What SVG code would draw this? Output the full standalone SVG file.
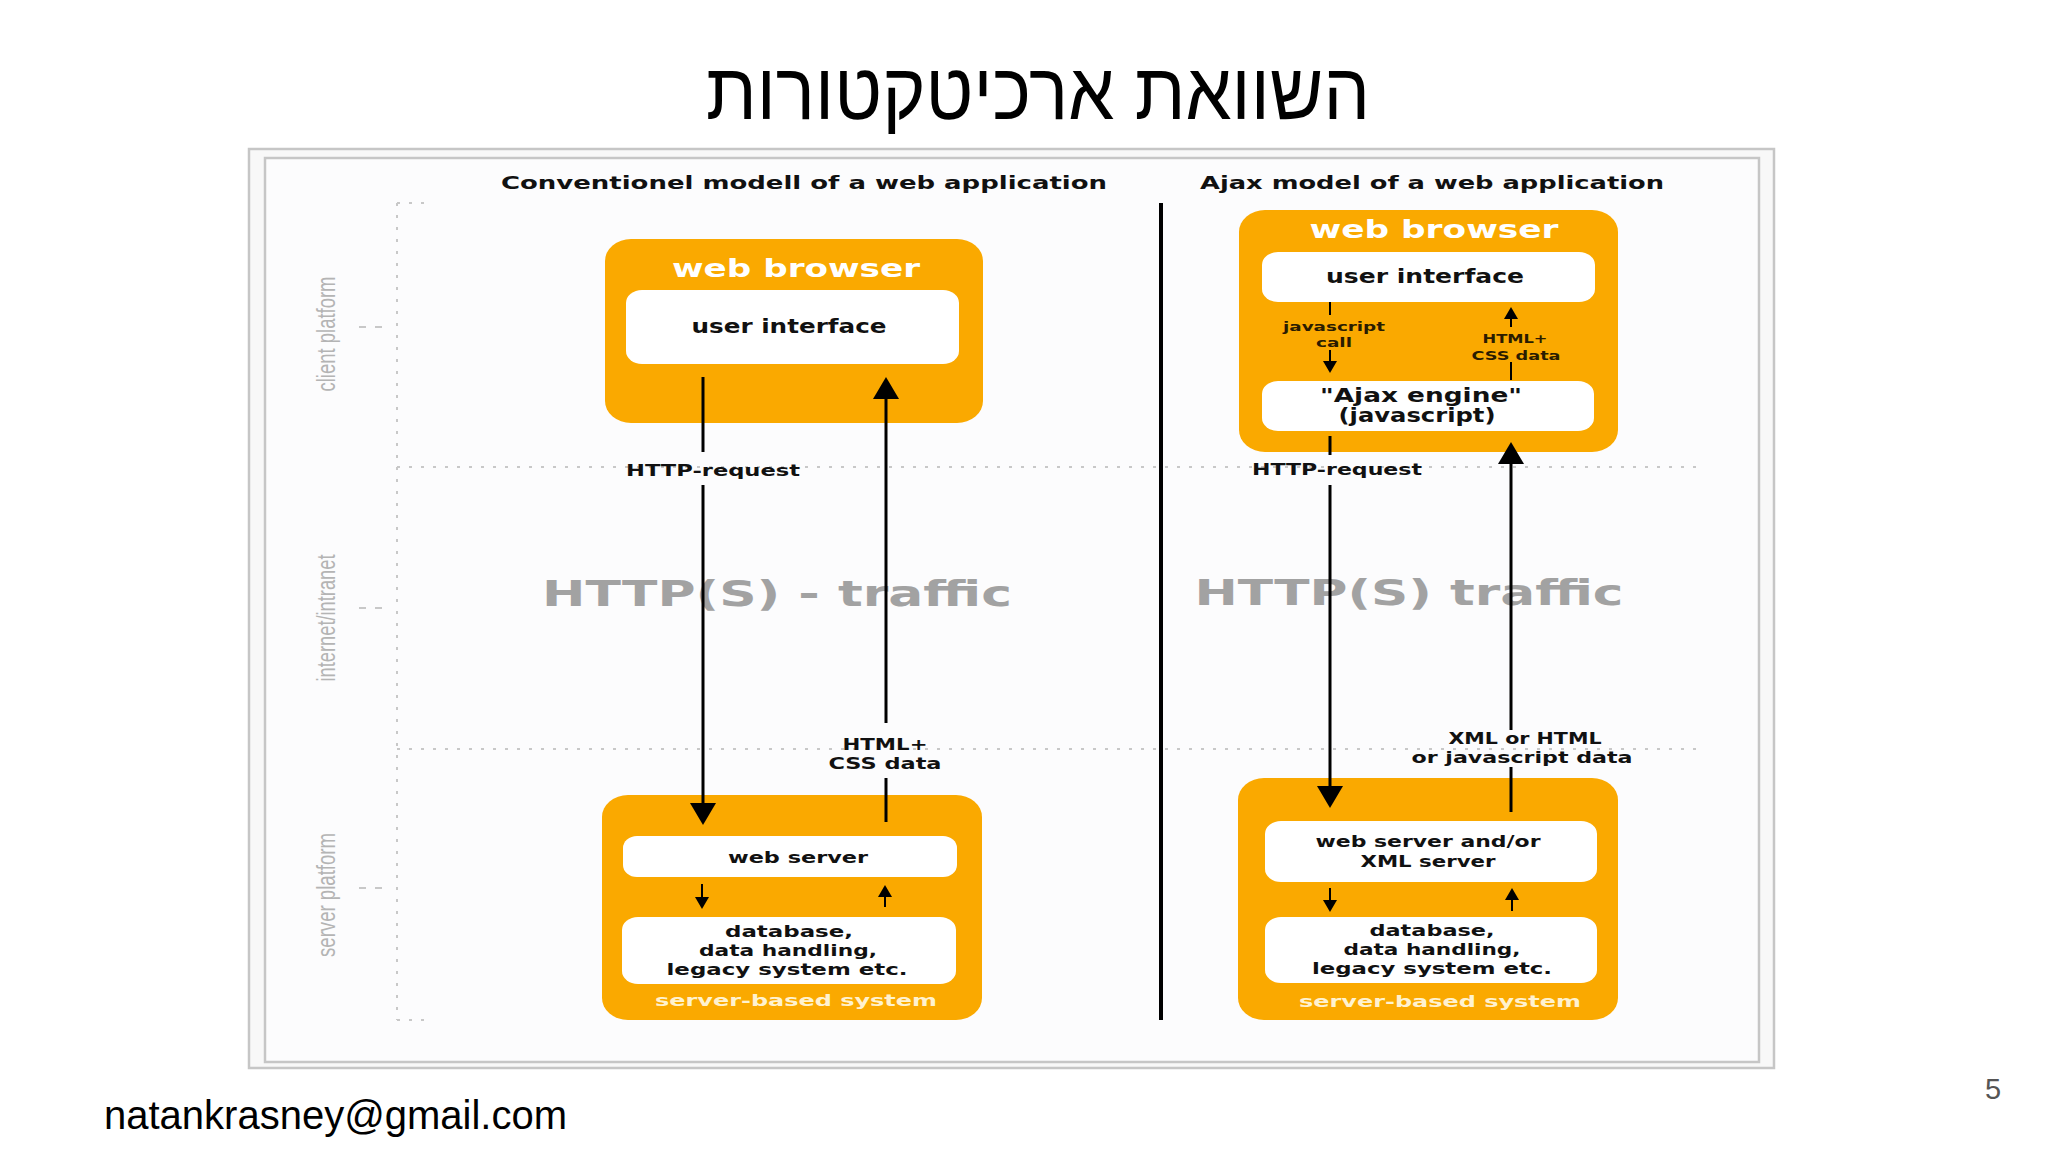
<svg xmlns="http://www.w3.org/2000/svg" width="2048" height="1152" viewBox="0 0 2048 1152">
<defs>
<style>
.title{font-family:"Liberation Sans","DejaVu Sans",sans-serif;font-size:80px;fill:#000;text-anchor:middle}
.foot{font-family:"Liberation Sans",Arial,sans-serif;font-size:40px;fill:#000}
.pnum{font-family:"Liberation Sans",Arial,sans-serif;font-size:29px;fill:#555}
.hdr{font-family:"DejaVu Sans",sans-serif;font-weight:bold;font-size:18px;fill:#111;text-anchor:middle}
.wb{font-family:"DejaVu Sans",sans-serif;font-weight:bold;font-size:25px;fill:#fff;text-anchor:middle}
.box{font-family:"DejaVu Sans",sans-serif;font-weight:bold;font-size:20px;fill:#111;text-anchor:middle}
.sm{font-family:"DejaVu Sans",sans-serif;font-weight:bold;font-size:15px;fill:#111;text-anchor:middle}
.tiny{font-family:"DejaVu Sans",sans-serif;font-weight:bold;font-size:13px;fill:#2a1c00;text-anchor:middle}
.sbs{font-family:"DejaVu Sans",sans-serif;font-weight:bold;font-size:16px;fill:#fff2cf;text-anchor:middle}
.traffic{font-family:"DejaVu Sans",sans-serif;font-weight:bold;font-size:35px;fill:#999;text-anchor:middle}
.side{font-family:"Liberation Sans","DejaVu Sans",sans-serif;font-size:26px;fill:#b4b4b4;text-anchor:middle}
.orange{fill:#faa900}
.white{fill:#fff}
.dot{stroke:#c8c8c8;stroke-width:2;stroke-dasharray:3 9;fill:none}
.tick{stroke:#c8c8c8;stroke-width:2;stroke-dasharray:7 9;fill:none}
.conn{stroke:#000;stroke-width:3;fill:none}
.conn-s{stroke:#000;stroke-width:2;fill:none}
</style>
<marker id="big" viewBox="0 0 22 26" refX="16" refY="13" markerWidth="22" markerHeight="26" markerUnits="userSpaceOnUse" orient="auto">
<path d="M0,0 L22,13 L0,26 z" fill="#000"/>
</marker>
<marker id="small" viewBox="0 0 12 14" refX="8" refY="7" markerWidth="12" markerHeight="14" markerUnits="userSpaceOnUse" orient="auto">
<path d="M0,0 L12,7 L0,14 z" fill="#000"/>
</marker>
</defs>
<rect x="0" y="0" width="2048" height="1152" fill="#fff"/>
<text class="title" x="1038" y="119" textLength="664" lengthAdjust="spacingAndGlyphs">השוואת ארכיטקטורות</text>

<g id="frame">
<rect x="249" y="149" width="1525" height="919" fill="#f8f8f8" stroke="#c6c6c6" stroke-width="2.5"/>
<rect x="265" y="158" width="1494" height="904" fill="#fcfcfd" stroke="#c6c6c6" stroke-width="2.5"/>
</g>

<g id="guides">
<line class="dot" x1="397" y1="203" x2="397" y2="1020"/>
<line class="dot" x1="397" y1="203" x2="433" y2="203"/>
<line class="dot" x1="397" y1="1020" x2="433" y2="1020"/>
<line class="dot" x1="397" y1="467" x2="1704" y2="467"/>
<line class="dot" x1="397" y1="749" x2="1704" y2="749"/>
<line class="tick" x1="359" y1="327" x2="390" y2="327"/>
<line class="tick" x1="359" y1="608" x2="390" y2="608"/>
<line class="tick" x1="359" y1="888" x2="390" y2="888"/>
<text class="side" transform="translate(335,334) rotate(-90)" textLength="115" lengthAdjust="spacingAndGlyphs">client platform</text>
<text class="side" transform="translate(335,618) rotate(-90)" textLength="127" lengthAdjust="spacingAndGlyphs">internet/intranet</text>
<text class="side" transform="translate(335,895) rotate(-90)" textLength="124" lengthAdjust="spacingAndGlyphs">server platform</text>
</g>

<text class="hdr" x="804" y="189" textLength="606" lengthAdjust="spacingAndGlyphs">Conventionel modell of a web application</text>
<text class="hdr" x="1432" y="189" textLength="464" lengthAdjust="spacingAndGlyphs">Ajax model of a web application</text>
<line x1="1161" y1="203" x2="1161" y2="1020" stroke="#000" stroke-width="4"/>

<text class="traffic" x="777" y="606" textLength="470" lengthAdjust="spacingAndGlyphs" opacity="0.9">HTTP(S) - traffic</text>
<text class="traffic" x="1409" y="605" textLength="429" lengthAdjust="spacingAndGlyphs" opacity="0.9">HTTP(S) traffic</text>

<g id="conv-browser">
<rect class="orange" x="605" y="239" width="378" height="184" rx="26" ry="22"/>
<text class="wb" x="796" y="277" textLength="248" lengthAdjust="spacingAndGlyphs">web browser</text>
<g id="conv-ui">
<rect class="white" x="626" y="290" width="333" height="74" rx="16" ry="13"/>
<text class="box" x="789" y="333" textLength="195" lengthAdjust="spacingAndGlyphs">user interface</text>
</g>
</g>

<g id="conv-server">
<rect class="orange" x="602" y="795" width="380" height="225" rx="26" ry="22"/>
<g id="conv-webserver">
<rect class="white" x="623" y="836" width="334" height="41" rx="14" ry="12"/>
<text class="sm" x="798" y="863" textLength="140" lengthAdjust="spacingAndGlyphs">web server</text>
</g>
<g id="conv-db">
<rect class="white" x="622" y="917" width="334" height="67" rx="16" ry="13"/>
<text class="sm" x="789" y="937" textLength="128" lengthAdjust="spacingAndGlyphs">database,</text>
<text class="sm" x="788" y="956" textLength="178" lengthAdjust="spacingAndGlyphs">data handling,</text>
<text class="sm" x="787" y="975" textLength="241" lengthAdjust="spacingAndGlyphs">legacy system etc.</text>
</g>
<text class="sbs" x="796" y="1006" textLength="282" lengthAdjust="spacingAndGlyphs">server-based system</text>
</g>

<g id="ajax-browser">
<rect class="orange" x="1239" y="210" width="379" height="242" rx="26" ry="22"/>
<text class="wb" x="1434" y="238" textLength="249" lengthAdjust="spacingAndGlyphs">web browser</text>
<g id="ajax-ui">
<rect class="white" x="1262" y="252" width="333" height="50" rx="16" ry="13"/>
<text class="box" x="1425" y="283" textLength="198" lengthAdjust="spacingAndGlyphs">user interface</text>
</g>
<g id="ajax-engine">
<rect class="white" x="1262" y="381" width="332" height="50" rx="16" ry="13"/>
<text class="box" x="1421" y="402" font-size="17" textLength="202" lengthAdjust="spacingAndGlyphs">"Ajax engine"</text>
<text class="box" x="1417" y="422" font-size="17" textLength="157" lengthAdjust="spacingAndGlyphs">(javascript)</text>
</g>
</g>

<g id="ajax-server">
<rect class="orange" x="1238" y="778" width="380" height="242" rx="26" ry="22"/>
<g id="ajax-webserver">
<rect class="white" x="1265" y="821" width="332" height="61" rx="16" ry="13"/>
<text class="sm" x="1428" y="847" textLength="225" lengthAdjust="spacingAndGlyphs">web server and/or</text>
<text class="sm" x="1428" y="867" textLength="135" lengthAdjust="spacingAndGlyphs">XML server</text>
</g>
<g id="ajax-db">
<rect class="white" x="1265" y="917" width="332" height="66" rx="16" ry="13"/>
<text class="sm" x="1432" y="936" textLength="125" lengthAdjust="spacingAndGlyphs">database,</text>
<text class="sm" x="1432" y="955" textLength="177" lengthAdjust="spacingAndGlyphs">data handling,</text>
<text class="sm" x="1432" y="974" textLength="240" lengthAdjust="spacingAndGlyphs">legacy system etc.</text>
</g>
<text class="sbs" x="1440" y="1007" textLength="282" lengthAdjust="spacingAndGlyphs">server-based system</text>
</g>

<g id="connectors">
<line class="conn" x1="703" y1="377" x2="703" y2="452"/>
<line class="conn" x1="703" y1="485" x2="703" y2="819" marker-end="url(#big)"/>
<text class="sm" x="713" y="476" textLength="174" lengthAdjust="spacingAndGlyphs">HTTP-request</text>
<line class="conn" x1="886" y1="822" x2="886" y2="778"/>
<line class="conn" x1="886" y1="723" x2="886" y2="383" marker-end="url(#big)"/>
<text class="sm" x="885" y="750" textLength="85" lengthAdjust="spacingAndGlyphs">HTML+</text>
<text class="sm" x="885" y="769" textLength="113" lengthAdjust="spacingAndGlyphs">CSS data</text>
<line class="conn-s" x1="702" y1="884" x2="702" y2="905" marker-end="url(#small)"/>
<line class="conn-s" x1="885" y1="907" x2="885" y2="889" marker-end="url(#small)"/>
<line class="conn-s" x1="1330" y1="302" x2="1330" y2="315"/>
<line class="conn-s" x1="1330" y1="350" x2="1330" y2="369" marker-end="url(#small)"/>
<text class="tiny" x="1334" y="331" textLength="102" lengthAdjust="spacingAndGlyphs">javascript</text>
<text class="tiny" x="1334" y="347" textLength="36" lengthAdjust="spacingAndGlyphs">call</text>
<line class="conn-s" x1="1511" y1="380" x2="1511" y2="362"/>
<line class="conn-s" x1="1511" y1="327" x2="1511" y2="311" marker-end="url(#small)"/>
<text class="tiny" x="1515" y="343" textLength="65" lengthAdjust="spacingAndGlyphs">HTML+</text>
<text class="tiny" x="1516" y="360" textLength="89" lengthAdjust="spacingAndGlyphs">CSS data</text>
<line class="conn" x1="1330" y1="436" x2="1330" y2="455"/>
<line class="conn" x1="1330" y1="485" x2="1330" y2="802" marker-end="url(#big)"/>
<text class="sm" x="1337" y="475" textLength="170" lengthAdjust="spacingAndGlyphs">HTTP-request</text>
<line class="conn" x1="1511" y1="812" x2="1511" y2="767"/>
<line class="conn" x1="1511" y1="730" x2="1511" y2="448" marker-end="url(#big)"/>
<text class="sm" x="1525" y="744" textLength="153" lengthAdjust="spacingAndGlyphs">XML or HTML</text>
<text class="sm" x="1522" y="763" textLength="221" lengthAdjust="spacingAndGlyphs">or javascript data</text>
<line class="conn-s" x1="1330" y1="888" x2="1330" y2="908" marker-end="url(#small)"/>
<line class="conn-s" x1="1512" y1="911" x2="1512" y2="892" marker-end="url(#small)"/>
</g>

<text class="foot" x="104" y="1129">natankrasney@gmail.com</text>
<text class="pnum" x="1993" y="1099" text-anchor="middle">5</text>
</svg>
